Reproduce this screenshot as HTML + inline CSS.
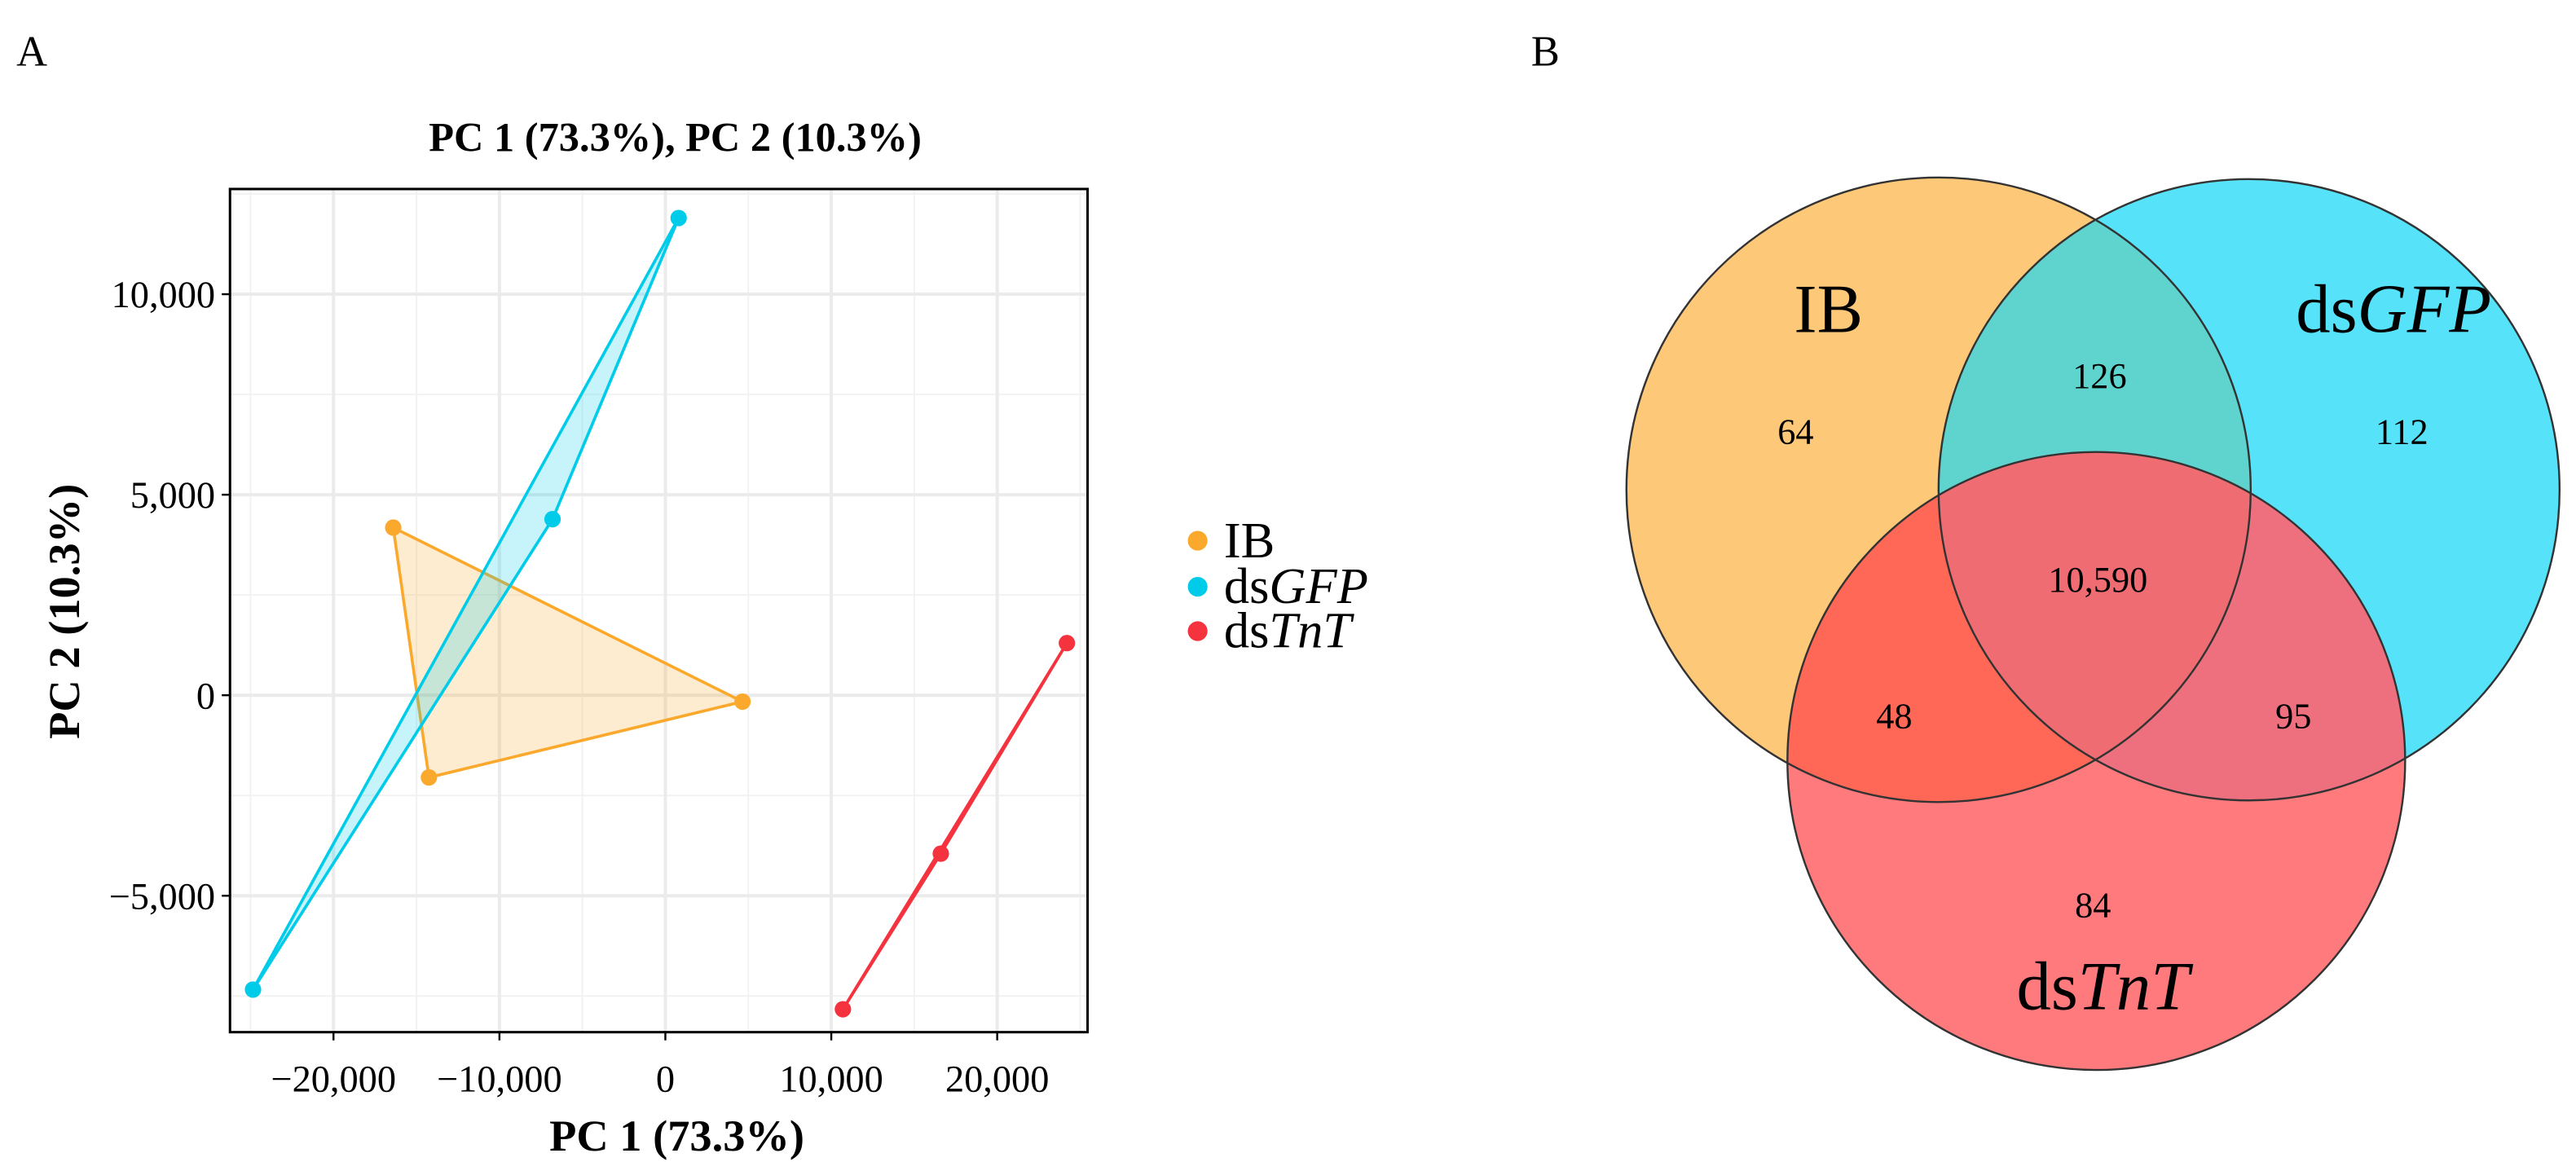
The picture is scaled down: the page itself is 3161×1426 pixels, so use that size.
<!DOCTYPE html>
<html><head><meta charset="utf-8"><style>
html,body{margin:0;padding:0;background:#fff;}
svg{display:block;font-family:"Liberation Serif",serif;}
</style></head><body>
<svg id="fig" width="3161" height="1426" viewBox="0 0 1568 707" preserveAspectRatio="none" xmlns="http://www.w3.org/2000/svg">
<defs>
<clipPath id="cIB"><circle cx="1180" cy="298" r="190"/></clipPath>
<clipPath id="cGFP"><circle cx="1369" cy="298" r="189"/></clipPath>
<clipPath id="cTnT"><circle cx="1276" cy="463" r="188"/></clipPath>
</defs>
<text x="10" y="40" font-size="26">A</text>
<text x="932" y="40" font-size="26">B</text>
<text x="411" y="92" font-size="25" font-weight="bold" text-anchor="middle">PC 1 (73.3%), PC 2 (10.3%)</text>
<g id="grid"></g>
<g id="hulls"></g>
<rect x="140" y="115" width="522" height="513" fill="none" stroke="#000" stroke-width="1.5"/>
<g id="axes"></g>
<text x="412" y="700" font-size="27" font-weight="bold" text-anchor="middle">PC 1 (73.3%)</text>
<text transform="translate(48,372) rotate(-90)" font-size="27" font-weight="bold" text-anchor="middle">PC 2 (10.3%)</text>
<g>
<g><circle cx="729" cy="329" r="6" fill="#FBA92C"/><text x="745" y="339" font-size="31">IB</text></g>
<g><circle cx="729" cy="357" r="6" fill="#00CCEA"/><text x="745" y="367" font-size="31">ds<tspan font-style="italic">GFP</tspan></text></g>
<g><circle cx="729" cy="384" r="6" fill="#F4333F"/><text x="745" y="394" font-size="31">ds<tspan font-style="italic">TnT</tspan></text></g>
</g>
<g>
<circle cx="1180" cy="298" r="190" fill="#FDC877"/>
<circle cx="1369" cy="298" r="189" fill="#56E2F8"/>
<circle cx="1276" cy="463" r="188" fill="#FF7A7D"/>
<g clip-path="url(#cIB)"><circle cx="1369" cy="298" r="189" fill="#5FD3CE"/><circle cx="1276" cy="463" r="188" fill="#FF6757"/></g>
<g clip-path="url(#cGFP)"><circle cx="1276" cy="463" r="188" fill="#EE707F"/></g>
<g clip-path="url(#cGFP)"><g clip-path="url(#cIB)"><circle cx="1276" cy="463" r="188" fill="#EE6C72"/></g></g>
<circle cx="1180" cy="298" r="190" fill="none" stroke="#333" stroke-width="1.2"/>
<circle cx="1369" cy="298" r="189" fill="none" stroke="#333" stroke-width="1.2"/>
<circle cx="1276" cy="463" r="188" fill="none" stroke="#333" stroke-width="1.2"/>
<text x="1113" y="202" font-size="42" text-anchor="middle">IB</text>
<text x="1457" y="202" font-size="42" text-anchor="middle">ds<tspan font-style="italic">GFP</tspan></text>
<text x="1280" y="614" font-size="42" text-anchor="middle">ds<tspan font-style="italic">TnT</tspan></text>
<g font-size="22" text-anchor="middle">
<text x="1093" y="270">64</text>
<text x="1278" y="236">126</text>
<text x="1462" y="270">112</text>
<text x="1277" y="360">10,590</text>
<text x="1153" y="443">48</text>
<text x="1396" y="443">95</text>
<text x="1274" y="558">84</text>
</g>
</g>
</svg>
<script>
const groups = ["IB", "dsGFP", "dsTnT"];
const colors = ["#FBA92C", "#00CCEA", "#F4333F"];
const ibX = [-16400, -14250, 4650];
const ibY = [4180, -2050, -160];
const gfpX = [800, -6800, -24850];
const gfpY = [11900, 4390, -7340];
const tntX = [24200, 16600, 10700];
const tntY = [1300, -3950, -7830];
const xTicks = [-20000, -10000, 0, 10000, 20000];
const xTickLabels = ["\u221220,000", "\u221210,000", "0", "10,000", "20,000"];
const yTicks = [-5000, 0, 5000, 10000];
const yTickLabels = ["\u22125,000", "0", "5,000", "10,000"];

const NS = "http://www.w3.org/2000/svg";
const L = 140, R = 662, T = 115, B = 628;
function sx(v) { return 405 + v * 0.0101; }
function sy(v) { return 423 - v * 0.0244; }
function mk(tag, attrs, parent) {
  const e = document.createElementNS(NS, tag);
  for (const k in attrs) e.setAttribute(k, attrs[k]);
  parent.appendChild(e);
  return e;
}
const grid = document.getElementById('grid');
mk('rect', {x: L, y: T, width: R - L, height: B - T, fill: '#fff'}, grid);
for (let v = -25000; v <= 25000; v += 10000) {
  const x = sx(v); if (x > L && x < R) { const g = mk('line', {x1: x, x2: x, y1: T, y2: B, stroke: '#F2F2F2', 'stroke-width': 1}, grid);
  
   }
}
for (let v = -7500; v <= 12500; v += 5000) {
  const y = sy(v); if (y > T && y < B) { const g = mk('line', {x1: L, x2: R, y1: y, y2: y, stroke: '#F2F2F2', 'stroke-width': 1}, grid);
  
   }
}
const axes = document.getElementById('axes');
xTicks.forEach((v, i) => {
  const x = sx(v);
  const g = mk('line', {x1: x, x2: x, y1: T, y2: B, stroke: '#EBEBEB', 'stroke-width': 2}, grid);
  
  
  mk('line', {x1: x, x2: x, y1: B, y2: B + 5, stroke: '#000', 'stroke-width': 1.2}, axes);
  const t = mk('text', {x: x, y: B + 36, 'font-size': 23, 'text-anchor': 'middle'}, axes);
  t.textContent = xTickLabels[i];
  
  
});
yTicks.forEach((v, i) => {
  const y = sy(v);
  const g = mk('line', {x1: L, x2: R, y1: y, y2: y, stroke: '#EBEBEB', 'stroke-width': 2}, grid);
  
  
  mk('line', {x1: L - 5, x2: L, y1: y, y2: y, stroke: '#000', 'stroke-width': 1.2}, axes);
  const t = mk('text', {x: L - 9, y: y + 8, 'font-size': 23, 'text-anchor': 'end'}, axes);
  t.textContent = yTickLabels[i];
  
  
});
const hulls = document.getElementById('hulls');
const series = [[ibX, ibY], [gfpX, gfpY], [tntX, tntY]];
series.forEach((s, gi) => {
  const pts = s[0].map((x, i) => sx(x) + ',' + sy(s[1][i])).join(' ');
  const p = mk('polygon', {points: pts, fill: colors[gi], 'fill-opacity': 0.22, stroke: colors[gi], 'stroke-width': 1.8, 'stroke-linejoin': 'round'}, hulls);
  
  
  s[0].forEach((x, i) => {
    const c = mk('circle', {cx: sx(x), cy: sy(s[1][i]), r: 5, fill: colors[gi]}, hulls);
    
    
  });
});
</script>
</body></html>
